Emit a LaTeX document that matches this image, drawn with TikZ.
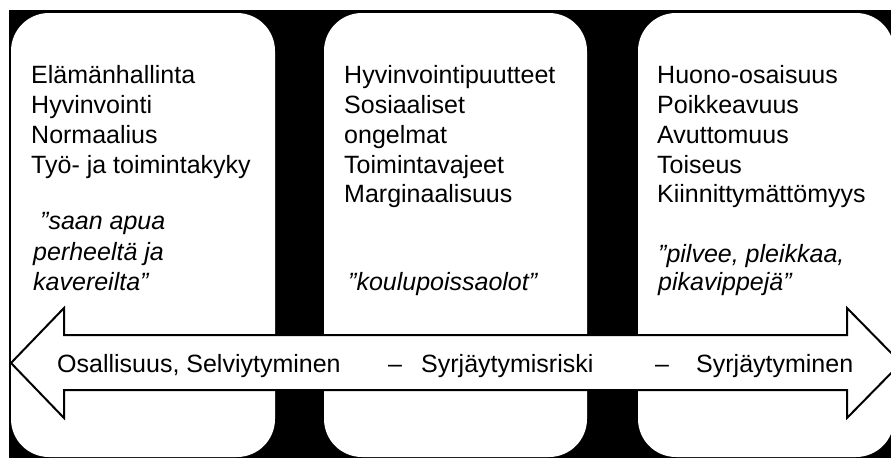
\documentclass[tikz,border=0pt]{standalone}
\usepackage{fontspec}
\setmainfont{Liberation Sans}
\begin{document}
\begin{tikzpicture}[x=1pt,y=-1pt,
  box/.style={fill=white, rounded corners=38pt},
  txt/.style={anchor=base west, inner sep=0pt, font=\fontsize{25}{30}\selectfont, text=black},
  itx/.style={txt, font=\fontsize{25}{30}\selectfont\itshape},
  arrowshape/.style={fill=white, draw=black, line width=2pt, line join=miter}]
\useasboundingbox (0,0) rectangle (891,458);
\fill[black] (9,10) rectangle (891,458);
% three columns
\fill[box] (11,13) rectangle (275,457);
\fill[box] (324,13) rectangle (587,457);
\fill[box] (638,13) rectangle (894,457);
% column 1
\foreach \t [count=\i] in {Elämänhallinta, Hyvinvointi, Normaalius, Työ- ja toimintakyky}
  \node[txt] (a\i) at (31, 53+30*\i) {\t};
\node[itx] (aq1) at (40,229) {”saan apua};
\node[itx] (aq2) at (33,260) {perheeltä ja};
\node[itx] (aq3) at (33,290) {kavereilta”};
% column 2
\foreach \t/\yy [count=\i] in {Hyvinvointipuutteet/83, Sosiaaliset/113, ongelmat/143, Toimintavajeet/173, Marginaalisuus/202}
  \node[txt] (b\i) at (344,\yy) {\t};
\node[itx] (bq1) at (348,290) {”koulupoissaolot”};
% column 3
\foreach \t/\yy [count=\i] in {Huono-osaisuus/83, Poikkeavuus/113, Avuttomuus/143, Toiseus/173, Kiinnittymättömyys/202}
  \node[txt] (c\i) at (657,\yy) {\t};
\node[itx] (cq1) at (658,262) {”pilvee, pleikkaa,};
\node[itx] (cq2) at (658,290) {pikavippejä”};
% double arrow
\draw[arrowshape] (11,363) -- (64,308) -- (64,335) -- (847,335) -- (847,308) -- (901,363)
  -- (847,418) -- (847,390) -- (64,390) -- (64,418) -- cycle;
\node[txt] (d1) at (57,372) {Osallisuus, Selviytyminen};
\node[txt] (d2) at (388,372) {–};
\node[txt] (d3) at (421,372) {Syrjäytymisriski};
\node[txt] (d4) at (655,372) {–};
\node[txt] (d5) at (696,372) {Syrjäytyminen};
\end{tikzpicture}
\end{document}
